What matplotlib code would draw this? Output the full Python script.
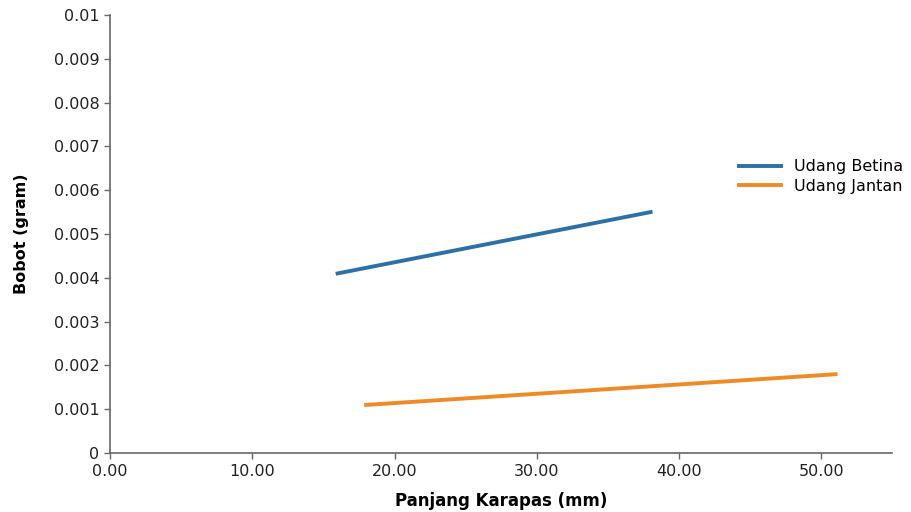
import matplotlib
matplotlib.use("Agg")
import matplotlib.pyplot as plt
from matplotlib.ticker import MultipleLocator, FuncFormatter

# data (trend lines)
betina_x = [16, 38]
betina_y = [0.0041, 0.0055]
jantan_x = [18, 51]
jantan_y = [0.0011, 0.0018]

plt.rcParams['font.family'] = 'DejaVu Sans'

fig = plt.figure(figsize=(9.12, 5.12), dpi=100)
ax = fig.add_axes([0.1206, 0.115, 0.858, 0.856])

ax.plot(betina_x, betina_y, color="#2a71a8", linewidth=2.8, label="Udang Betina")
ax.plot(jantan_x, jantan_y, color="#f08a24", linewidth=2.8, label="Udang Jantan")

ax.set_xlim(0, 55)
ax.set_ylim(0, 0.01)
ax.xaxis.set_major_locator(MultipleLocator(10))
ax.yaxis.set_major_locator(MultipleLocator(0.001))
ax.xaxis.set_major_formatter(FuncFormatter(lambda v, p: f"{v:.2f}"))
ax.yaxis.set_major_formatter(FuncFormatter(lambda v, p: "0" if v == 0 else f"{v:.3f}".rstrip("0")))

for s in ["top", "right"]:
    ax.spines[s].set_visible(False)
for s in ["left", "bottom"]:
    ax.spines[s].set_color("#666666")
    ax.spines[s].set_linewidth(1.2)
ax.tick_params(colors="#222222", labelsize=11.5, length=4, width=1, color="#666666")

ax.set_xlabel("Panjang Karapas (mm)", fontsize=12, fontweight="bold", labelpad=10)
ax.set_ylabel("Bobot (gram)", fontsize=11.5, fontweight="bold", labelpad=18)

ax.legend(loc="center left", bbox_to_anchor=(0.795, 0.655), bbox_transform=fig.transFigure,
          frameon=False, fontsize=11.5, handlelength=2.6, labelspacing=0.3)

plt.savefig("out.png", dpi=100)
